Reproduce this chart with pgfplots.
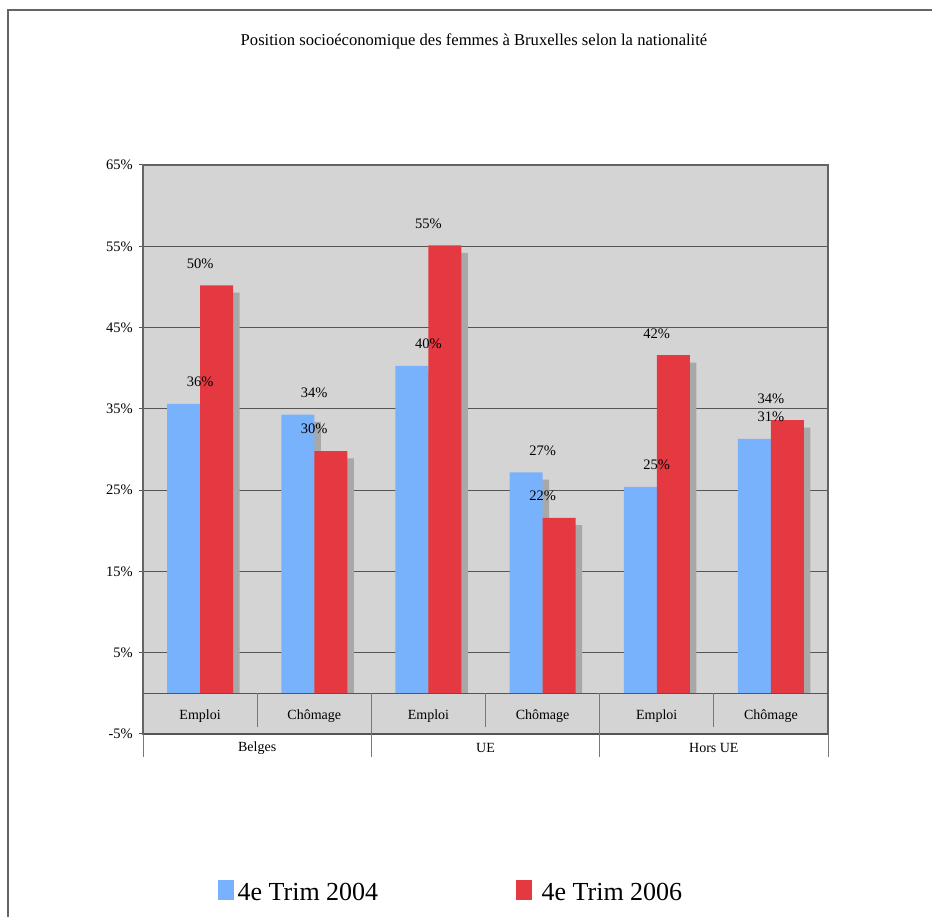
\documentclass[border=0pt]{standalone}
\usepackage{fontspec}
\setmainfont{Liberation Serif}
\usepackage{pgfplots}
\usepackage{pgfplotstable}
\pgfplotsset{compat=1.18}
\definecolor{myblue}{RGB}{120,178,252}
\definecolor{myred}{RGB}{228,57,65}
\definecolor{bg}{RGB}{212,212,212}
\definecolor{shd}{RGB}{168,168,168}
\definecolor{gridc}{RGB}{85,85,85}
\definecolor{framec}{RGB}{100,100,100}
\definecolor{sepc}{RGB}{120,120,120}

\pgfplotstableread{
x a b
0 35.6 50.2
1 34.3 29.8
2 40.3 55.1
3 27.2 21.6
4 25.4 41.6
5 31.3 33.6
}\datatable

\pgfplotsset{
  blueleg/.style={legend image code/.code={\fill[myblue] (0pt,-7pt) rectangle (15pt,11.6pt);}},
  redleg/.style={legend image code/.code={\fill[myred] (0pt,-7pt) rectangle (15pt,11.6pt);}},
}

\begin{document}
\begin{tikzpicture}[x=1pt,y=1pt]
\path[use as bounding box, fill=white] (0,0) rectangle (932,917);
\draw[framec, line width=2pt] (8,0) -- (8,907) -- (932,907);
\node[font=\fontsize{16.6}{19}\selectfont] at (474,876) {Position socioéconomique des femmes à Bruxelles selon la nationalité};
\begin{axis}[
  scale only axis, width=685pt, height=569pt,
  at={(143pt,183pt)}, anchor=south west,
  xmin=-0.5, xmax=5.5, ymin=-5, ymax=65,
  clip=false,
  axis background/.style={fill=bg},
  axis line style={draw=framec, line width=1.8pt},
  ytick={-5,5,...,65},
  yticklabel={\pgfmathprintnumber{\tick}\%},
  /pgf/number format/assume math mode=true,
  ymajorgrids,
  major grid style={draw=gridc, line width=1.2pt},
  tick align=outside,
  ytick pos=left,
  major tick length=4pt,
  ytick style={draw=gridc, line width=1pt},
  yticklabel style={font=\fontsize{14.5}{16}\selectfont, anchor=east, inner sep=0pt, xshift=-6pt},
  xtick={0,...,5},
  xticklabels={Emploi,Chômage,Emploi,Chômage,Emploi,Chômage},
  xtick style={draw=none},
  xticklabel style={font=\fontsize{14}{16}\selectfont, anchor=center, yshift=22pt},
  legend style={draw=none, fill=none, inner sep=0pt, at={(0.1095,-0.2777)}, anchor=west,
    font=\fontsize{26}{30}\selectfont, nodes={inner sep=2pt},
    /tikz/column 1/.style={column sep=2pt},
    /tikz/column 2/.style={column sep=136pt},
    /tikz/column 3/.style={column sep=8pt}},
  legend columns=2,
  legend cell align=left,
]
% shadows (same values, drawn 0.9 lower and offset to the right)
\addplot[ybar, bar width=33pt, bar shift=-10pt, fill=shd, draw=none, forget plot] table[x=x,y expr=\thisrow{a}-0.9] {\datatable};
\addplot[ybar, bar width=33pt, bar shift=-16.5pt, fill=myblue, draw=none, forget plot,
  nodes near coords={\pgfmathprintnumber[fixed,precision=0]{\pgfplotspointmeta}\%},
  every node near coord/.append style={font=\fontsize{14.5}{16}\selectfont, text=black, yshift=13.4pt}]
  table[x=x,y=a] {\datatable};
\addplot[ybar, bar width=33pt, bar shift=23pt, fill=shd, draw=none, forget plot] table[x=x,y expr=\thisrow{b}-0.9] {\datatable};
\addplot[ybar, bar width=33pt, bar shift=16.5pt, fill=myred, draw=none, forget plot,
  nodes near coords={\pgfmathprintnumber[fixed,precision=0]{\pgfplotspointmeta}\%},
  every node near coord/.append style={font=\fontsize{14.5}{16}\selectfont, text=black, yshift=13.4pt}]
  table[x=x,y=b] {\datatable};
% label strip lines
\draw[gridc, line width=1.5pt] (axis cs:-0.5,0) -- (axis cs:5.5,0);
\draw[gridc, line width=2.4pt] (axis cs:-0.5,-5) -- (axis cs:5.5,-5);
\draw[sepc, line width=1pt] (axis cs:0.5,0) -- (axis cs:0.5,-4.2);
\draw[sepc, line width=1pt] (axis cs:2.5,0) -- (axis cs:2.5,-4.2);
\draw[sepc, line width=1pt] (axis cs:4.5,0) -- (axis cs:4.5,-4.2);
\draw[sepc, line width=1pt] (axis cs:1.5,0) -- ([yshift=-23pt]axis cs:1.5,-5);
\draw[sepc, line width=1pt] (axis cs:3.5,0) -- ([yshift=-23pt]axis cs:3.5,-5);
\draw[sepc, line width=1pt] (axis cs:-0.5,-5) -- ([yshift=-23pt]axis cs:-0.5,-5);
\draw[sepc, line width=1pt] (axis cs:5.5,-5) -- ([yshift=-23pt]axis cs:5.5,-5);
\node[font=\fontsize{14}{16}\selectfont] at ([yshift=-14pt]axis cs:0.5,-5) {Belges};
\node[font=\fontsize{14}{16}\selectfont] at ([yshift=-14pt]axis cs:2.5,-5) {UE};
\node[font=\fontsize{14}{16}\selectfont] at ([yshift=-14pt]axis cs:4.5,-5) {Hors UE};
\addlegendimage{blueleg}
\addlegendentry{4e Trim 2004}
\addlegendimage{redleg}
\addlegendentry{4e Trim 2006}
\end{axis}
\end{tikzpicture}
\end{document}
